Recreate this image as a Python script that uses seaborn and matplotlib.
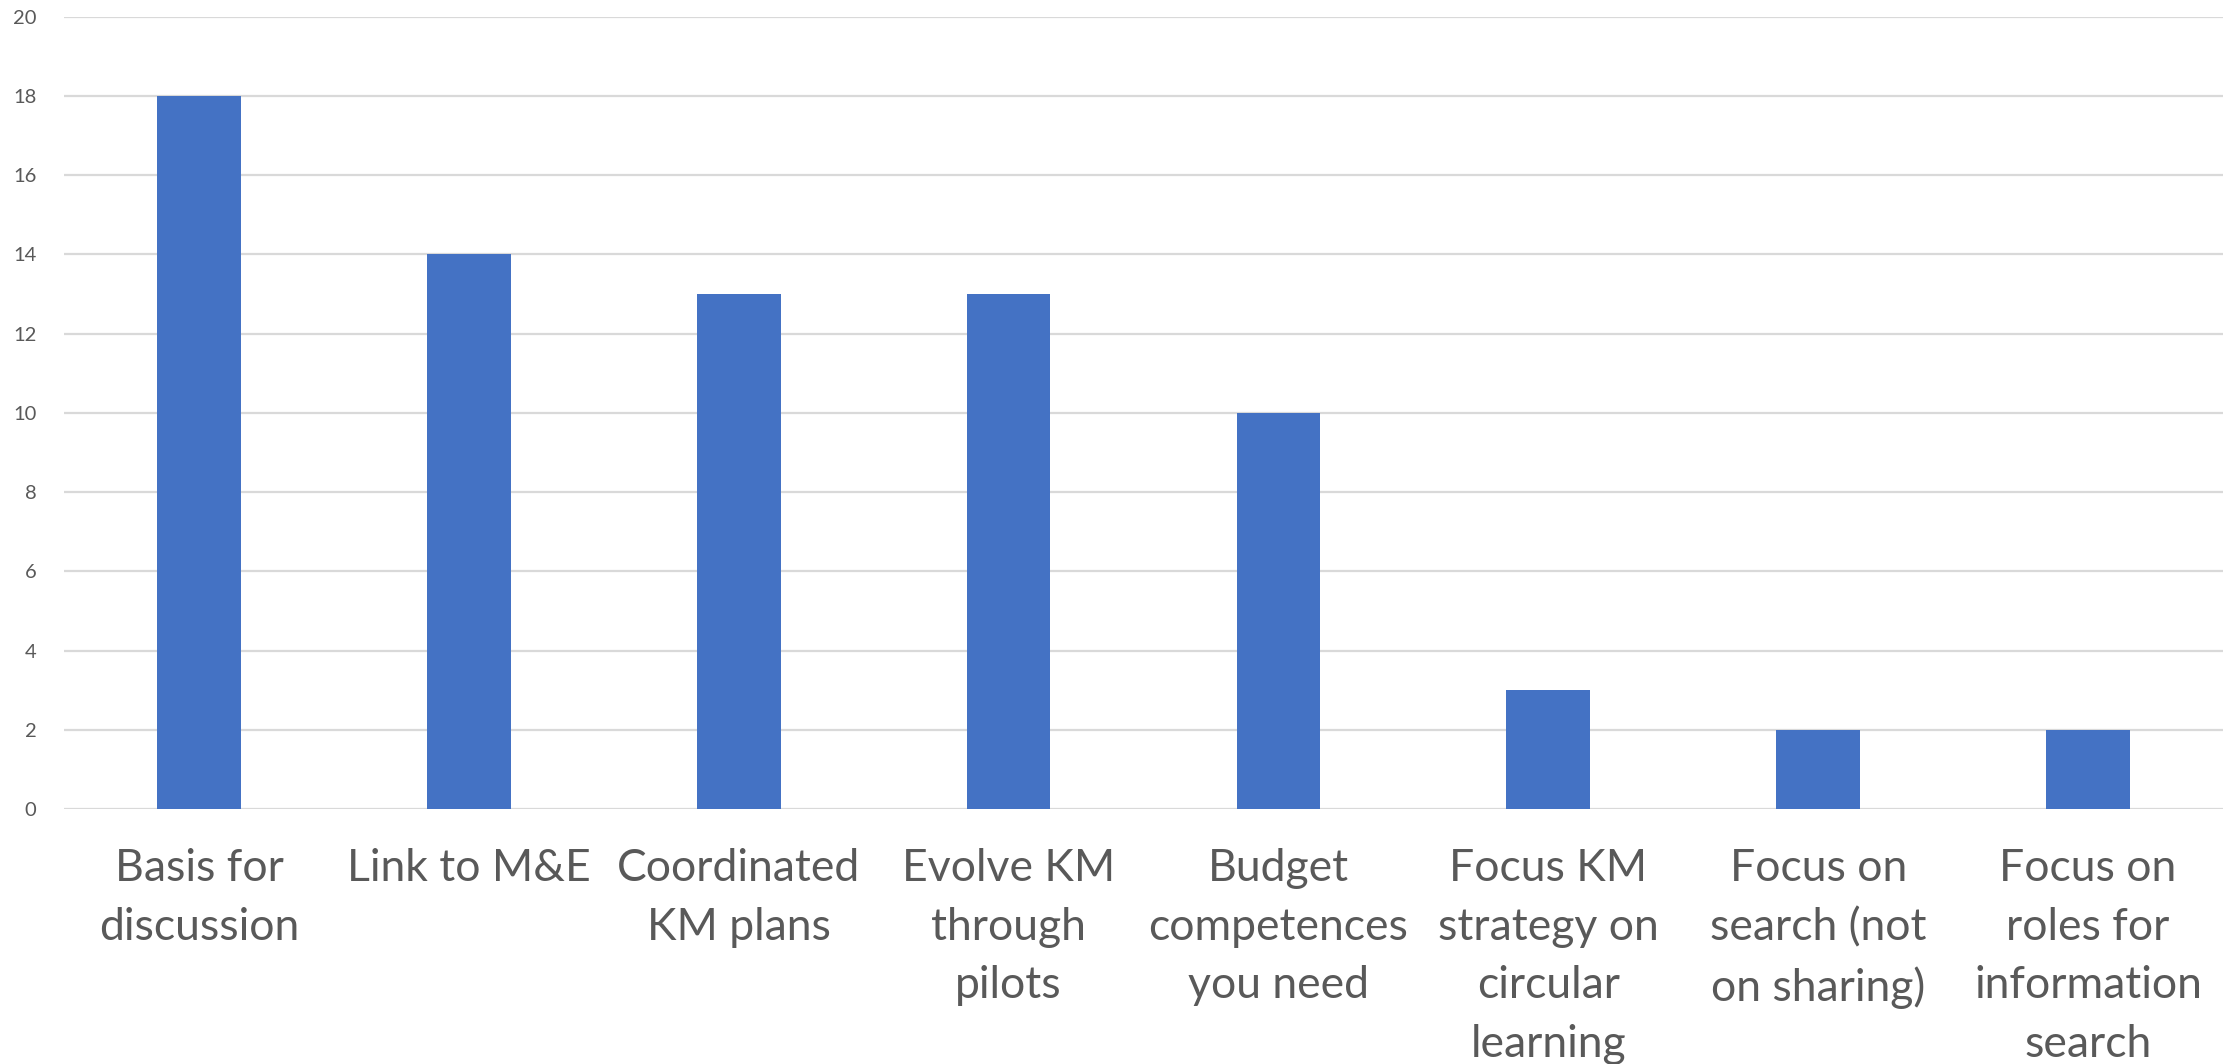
import matplotlib
matplotlib.use("Agg")
import matplotlib.pyplot as plt
import seaborn as sns
import pandas as pd

# chart data
categories = [
    "Basis for\ndiscussion",
    "Link to M&E",
    "Coordinated\nKM plans",
    "Evolve KM\nthrough\npilots",
    "Budget\ncompetences\nyou need",
    "Focus KM\nstrategy on\ncircular\nlearning",
    "Focus on\nsearch (not\non sharing)",
    "Focus on\nroles for\ninformation\nsearch",
]
counts = [18, 14, 13, 13, 10, 3, 2, 2]
y_ticks = list(range(0, 21, 2))

df = pd.DataFrame({"category": categories, "count": counts})

sns.set_style("white")
plt.rcParams["font.family"] = ["Lato", "DejaVu Sans"]

fig = plt.figure(figsize=(22.31, 10.64), dpi=100)
ax = fig.add_axes([0.0287, 0.2397, 0.9677, 0.7446])

sns.barplot(data=df, x="category", y="count", color="#4472C4",
            width=0.31, saturation=1, linewidth=0, ax=ax, zorder=3)

ax.set_ylim(0, 20)
ax.set_yticks(y_ticks)
ax.set_xlim(-0.5, len(categories) - 0.5)
ax.yaxis.grid(True, color="#D9D9D9", linewidth=1.6, zorder=0)
ax.set_axisbelow(True)
for s in ax.spines.values():
    s.set_visible(False)

ax.set_xlabel("")
ax.set_ylabel("")
ax.tick_params(axis="y", length=0, labelsize=14.5, labelcolor="#595959", pad=20)
ax.tick_params(axis="x", length=0, labelsize=32, labelcolor="#595959", pad=28)
for lbl in ax.get_xticklabels():
    lbl.set_linespacing(1.54)

fig.savefig("out.png", dpi=100)
